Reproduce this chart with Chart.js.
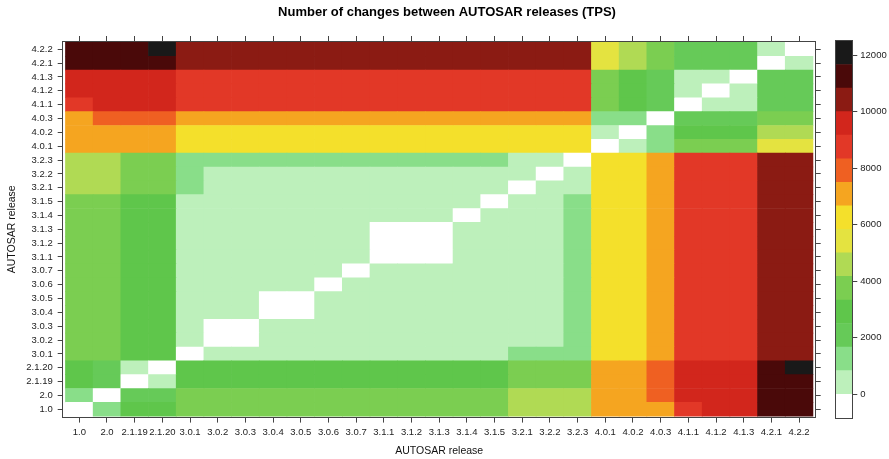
<!DOCTYPE html>
<html>
<head>
<meta charset="utf-8">
<script src="https://cdn.jsdelivr.net/npm/chart.js@4/dist/chart.umd.min.js"></script>
<style>
html,body{margin:0;padding:0;background:#ffffff;}
#wrap{position:relative;width:889px;height:459px;overflow:hidden;}
#main{position:absolute;left:0;top:0;}
#key{position:absolute;left:826px;top:0;}
</style>
</head>
<body>
<div id="wrap">
<canvas id="main" width="889" height="459"></canvas>
<canvas id="key" width="63" height="459"></canvas>
</div>
<script>
// ---------- data ----------
const releases = ['1.0','2.0','2.1.19','2.1.20','3.0.1','3.0.2','3.0.3','3.0.4','3.0.5','3.0.6','3.0.7',
  '3.1.1','3.1.2','3.1.3','3.1.4','3.1.5','3.2.1','3.2.2','3.2.3','4.0.1','4.0.2','4.0.3',
  '4.1.1','4.1.2','4.1.3','4.2.1','4.2.2'];

// changes[i][j]: number of changes between releases[i] (row, y) and releases[j] (column, x)
const changes = [
  /* 1.0    */ [0,1250,2920,2920, 3750,3750,3750,3750,3750,3750,3750,3750,3750,3750,3750,3750,4580,4580,4580, 7080,7080,7080,8750,9580,9580,11250,11250],
  /* 2.0    */ [1250,0,2080,2080, 3750,3750,3750,3750,3750,3750,3750,3750,3750,3750,3750,3750,4580,4580,4580, 7080,7080,7920,9580,9580,9580,11250,11250],
  /* 2.1.19 */ [2920,2080,0,420, 2920,2920,2920,2920,2920,2920,2920,2920,2920,2920,2920,2920,3750,3750,3750, 7080,7080,7920,9580,9580,9580,11250,11250],
  /* 2.1.20 */ [2920,2080,420,0, 2920,2920,2920,2920,2920,2920,2920,2920,2920,2920,2920,2920,3750,3750,3750, 7080,7080,7920,9580,9580,9580,11250,11700],
  /* 3.0.1  */ [3750,3750,2920,2920, 0,420,420,420,420,420,420,420,420,420,420,420,1250,1250,1250, 6250,6250,7080,8750,8750,8750,10420,10420],
  /* 3.0.2  */ [3750,3750,2920,2920, 420,0,0,420,420,420,420,420,420,420,420,420,420,420,1250, 6250,6250,7080,8750,8750,8750,10420,10420],
  /* 3.0.3  */ [3750,3750,2920,2920, 420,0,0,420,420,420,420,420,420,420,420,420,420,420,1250, 6250,6250,7080,8750,8750,8750,10420,10420],
  /* 3.0.4  */ [3750,3750,2920,2920, 420,420,420,0,0,420,420,420,420,420,420,420,420,420,1250, 6250,6250,7080,8750,8750,8750,10420,10420],
  /* 3.0.5  */ [3750,3750,2920,2920, 420,420,420,0,0,420,420,420,420,420,420,420,420,420,1250, 6250,6250,7080,8750,8750,8750,10420,10420],
  /* 3.0.6  */ [3750,3750,2920,2920, 420,420,420,420,420,0,420,420,420,420,420,420,420,420,1250, 6250,6250,7080,8750,8750,8750,10420,10420],
  /* 3.0.7  */ [3750,3750,2920,2920, 420,420,420,420,420,420,0,420,420,420,420,420,420,420,1250, 6250,6250,7080,8750,8750,8750,10420,10420],
  /* 3.1.1  */ [3750,3750,2920,2920, 420,420,420,420,420,420,420,0,0,0,420,420,420,420,1250, 6250,6250,7080,8750,8750,8750,10420,10420],
  /* 3.1.2  */ [3750,3750,2920,2920, 420,420,420,420,420,420,420,0,0,0,420,420,420,420,1250, 6250,6250,7080,8750,8750,8750,10420,10420],
  /* 3.1.3  */ [3750,3750,2920,2920, 420,420,420,420,420,420,420,0,0,0,420,420,420,420,1250, 6250,6250,7080,8750,8750,8750,10420,10420],
  /* 3.1.4  */ [3750,3750,2920,2920, 420,420,420,420,420,420,420,420,420,420,0,420,420,420,1250, 6250,6250,7080,8750,8750,8750,10420,10420],
  /* 3.1.5  */ [3750,3750,2920,2920, 420,420,420,420,420,420,420,420,420,420,420,0,420,420,1250, 6250,6250,7080,8750,8750,8750,10420,10420],
  /* 3.2.1  */ [4580,4580,3750,3750, 1250,420,420,420,420,420,420,420,420,420,420,420,0,420,420, 6250,6250,7080,8750,8750,8750,10420,10420],
  /* 3.2.2  */ [4580,4580,3750,3750, 1250,420,420,420,420,420,420,420,420,420,420,420,420,0,420, 6250,6250,7080,8750,8750,8750,10420,10420],
  /* 3.2.3  */ [4580,4580,3750,3750, 1250,1250,1250,1250,1250,1250,1250,1250,1250,1250,1250,1250,420,420,0, 6250,6250,7080,8750,8750,8750,10420,10420],
  /* 4.0.1  */ [7080,7080,7080,7080, 6250,6250,6250,6250,6250,6250,6250,6250,6250,6250,6250,6250,6250,6250,6250, 0,420,1250,3750,3750,3750,5420,5420],
  /* 4.0.2  */ [7080,7080,7080,7080, 6250,6250,6250,6250,6250,6250,6250,6250,6250,6250,6250,6250,6250,6250,6250, 420,0,1250,2920,2920,2920,4580,4580],
  /* 4.0.3  */ [7080,7920,7920,7920, 7080,7080,7080,7080,7080,7080,7080,7080,7080,7080,7080,7080,7080,7080,7080, 1250,1250,0,2080,2080,2080,3750,3750],
  /* 4.1.1  */ [8750,9580,9580,9580, 8750,8750,8750,8750,8750,8750,8750,8750,8750,8750,8750,8750,8750,8750,8750, 3750,2920,2080,0,420,420,2080,2080],
  /* 4.1.2  */ [9580,9580,9580,9580, 8750,8750,8750,8750,8750,8750,8750,8750,8750,8750,8750,8750,8750,8750,8750, 3750,2920,2080,420,0,420,2080,2080],
  /* 4.1.3  */ [9580,9580,9580,9580, 8750,8750,8750,8750,8750,8750,8750,8750,8750,8750,8750,8750,8750,8750,8750, 3750,2920,2080,420,420,0,2080,2080],
  /* 4.2.1  */ [11250,11250,11250,11250, 10420,10420,10420,10420,10420,10420,10420,10420,10420,10420,10420,10420,10420,10420,10420, 5420,4580,3750,2080,2080,2080,0,420],
  /* 4.2.2  */ [11250,11250,11250,11700, 10420,10420,10420,10420,10420,10420,10420,10420,10420,10420,10420,10420,10420,10420,10420, 5420,4580,3750,2080,2080,2080,420,0]
];

// colour key: interval breaks and their colours, plus key tick labels
const colorBreaks = [-833.33, 0, 833.33, 1666.67, 2500, 3333.33, 4166.67, 5000, 5833.33, 6666.67,
  7500, 8333.33, 9166.67, 10000, 10833.33, 11666.67, 12500];
const colorPalette = ['#FFFFFF','#BDF0BB','#89DE89','#66CA58','#5FC64B','#7BCE51','#B0DA54','#E4E340',
  '#F4E02B','#F5A520','#EF6022','#E23827','#D2261C','#8B1B13','#4A0909','#191919'];
const keyTicks = [0, 2000, 4000, 6000, 8000, 10000, 12000];

// ---------- drawing ----------
const FONT = "'Liberation Sans', Arial, Helvetica, sans-serif";
function colorFor(v) {
  for (let k = 0; k < colorPalette.length; k++) {
    if (v <= colorBreaks[k + 1]) return colorPalette[k];
  }
  return colorPalette[colorPalette.length - 1];
}

const datasets = changes.map((row, i) => ({
  label: releases[i],
  data: row.map((v, j) => ({ x: [j - 0.5, j + 0.5], y: i, value: v })),
  backgroundColor: row.map(colorFor),
  borderWidth: 0,
  grouped: false,
  barPercentage: 1,
  categoryPercentage: 1
}));

const setIndexTicks = s => { s.ticks = releases.map((_, i) => ({ value: i })); };
const frameCol = '#444444';
const tickFont = { family: FONT, size: 9.5 };
const axisBase = () => ({
  type: 'linear', min: -0.6, max: 26.6,
  offset: false,
  afterBuildTicks: setIndexTicks,
  grid: { offset: false, drawOnChartArea: false, drawTicks: true, tickLength: 5, color: frameCol, lineWidth: 1 },
  border: { display: true, color: frameCol, width: 1 }
});

new Chart(document.getElementById('main'), {
  type: 'bar',
  data: { datasets },
  options: {
    indexAxis: 'y',
    responsive: false,
    animation: false,
    devicePixelRatio: 1,
    layout: { padding: { left: 5, right: 0, top: 0, bottom: 0 } },
    scales: {
      x: Object.assign(axisBase(), {
        position: 'bottom',
        ticks: { autoSkip: false, maxRotation: 0, minRotation: 0, padding: 4, font: tickFont, color: '#222222',
          callback: v => releases[v] },
        title: { display: true, text: 'AUTOSAR release', font: { family: FONT, size: 10.5 }, color: '#111111',
          padding: { top: 0, bottom: 1.7 } },
        afterFit: s => { s.height = 41.4; }
      }),
      x2: Object.assign(axisBase(), {
        position: 'top',
        ticks: { display: false },
        afterFit: s => { s.height = 20.4; }
      }),
      y: Object.assign(axisBase(), {
        position: 'left',
        ticks: { autoSkip: false, padding: 5, font: tickFont, color: '#222222', callback: v => releases[v] },
        title: { display: true, text: 'AUTOSAR release', font: { family: FONT, size: 10.5 }, color: '#111111',
          padding: { top: 1.2, bottom: 0 } },
        afterFit: s => { s.width = 57.7; }
      }),
      y2: Object.assign(axisBase(), {
        position: 'right',
        ticks: { display: false },
        afterFit: s => { s.width = 73.3; }
      })
    },
    plugins: {
      legend: { display: false },
      tooltip: { enabled: false },
      title: {
        display: true,
        text: 'Number of changes between AUTOSAR releases (TPS)',
        font: { family: FONT, size: 13, weight: 'bold' },
        color: '#000000',
        padding: { top: 5, bottom: 0 }
      }
    }
  }
});

// colour key
new Chart(document.getElementById('key'), {
  type: 'bar',
  data: {
    labels: ['key'],
    datasets: colorPalette.map((c, k) => ({
      data: [[colorBreaks[k], colorBreaks[k + 1]]],
      backgroundColor: c,
      borderWidth: 0,
      grouped: false,
      barPercentage: 1,
      categoryPercentage: 1
    }))
  },
  options: {
    responsive: false,
    animation: false,
    devicePixelRatio: 1,
    layout: { padding: { left: 10, top: 41, bottom: 41.3, right: 0 } },
    scales: {
      x: { display: false },
      y: {
        type: 'linear', position: 'right',
        min: colorBreaks[0], max: colorBreaks[colorBreaks.length - 1],
        afterBuildTicks: s => { s.ticks = keyTicks.map(v => ({ value: v })); },
        grid: { drawOnChartArea: false, drawTicks: true, tickLength: 5, color: frameCol },
        border: { display: true, color: frameCol, width: 1 },
        ticks: { padding: 3, font: tickFont, color: '#222222', callback: v => String(v) },
        afterFit: s => { s.width = 36.7; }
      }
    },
    plugins: { legend: { display: false }, tooltip: { enabled: false } }
  },
  plugins: [{
    id: 'keyFrame',
    afterDatasetsDraw(chart) {
      const { ctx, chartArea: a } = chart;
      ctx.save();
      ctx.strokeStyle = frameCol;
      ctx.lineWidth = 1;
      ctx.strokeRect(Math.round(a.left) - 0.5, Math.round(a.top) - 0.5,
        Math.round(a.right - a.left) + 1, Math.round(a.bottom - a.top) + 1);
      ctx.restore();
    }
  }]
});
</script>
</body>
</html>
